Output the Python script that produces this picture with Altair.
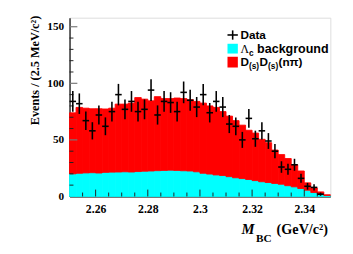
import altair as alt
import pandas as pd
import numpy as np

# ---------------- data ----------------
bin_width = 0.0025
bin_lo = [round(2.25 + i * bin_width, 4) for i in range(40)]

data_counts = [84, 82, 67, 58, 72, 62, 75, 90, 77, 84,
               75, 77, 94, 72, 84, 83, 75, 92, 85, 79,
               90, 74, 84, 79, 64, 62, 50, 69, 51, 58,
               49, 40, 26, 24, 28, 16, 9, 8, 2, 0]

lambda_bkg = [20.0, 20.5, 20.8, 21.0, 20.7, 21.3, 21.5, 21.6, 21.8, 21.6,
              22.0, 22.3, 22.5, 22.8, 23.0, 23.2, 23.0, 22.7, 22.5, 21.8,
              20.5, 19.8, 19.0, 18.5, 17.5, 16.5, 15.8, 15.0, 14.0, 13.0,
              12.3, 11.5, 10.8, 9.5, 8.5, 7.0, 5.5, 3.5, 2.0, 0.8]

stack_total = [73.9, 78.7, 78.0, 77.5, 77.5, 77.3, 78.0, 81.6, 81.6, 82.5,
               87.4, 86.0, 84.5, 88.2, 86.5, 86.5, 87.0, 86.5, 85.5, 84.0,
               82.5, 80.0, 78.7, 75.0, 71.0, 67.0, 63.0, 58.5, 56.0, 50.5,
               47.5, 41.0, 37.0, 33.5, 28.0, 22.5, 12.0, 7.5, 4.0, 1.5]

x_major = [2.26, 2.28, 2.30, 2.32, 2.34]
x_minor = [2.255, 2.265, 2.27, 2.275, 2.285, 2.29, 2.295, 2.305, 2.31,
           2.315, 2.325, 2.33, 2.335, 2.345]
y_major = [50, 100, 150]
y_minor = [10, 20, 30, 40, 60, 70, 80, 90, 110, 120, 130, 140]

# ---------------- frames ----------------
hist = pd.DataFrame({
    "lo": bin_lo,
    "hi": [b + bin_width for b in bin_lo],
    "bkg": lambda_bkg,
    "total": stack_total,
})
hist["zero"] = 0.0

pts = pd.DataFrame({
    "lo": bin_lo,
    "hi": [b + bin_width for b in bin_lo],
    "n": data_counts,
})
pts["mid"] = pts["lo"] + bin_width / 2
pts["err"] = np.sqrt(pts["n"])
pts["elo"] = pts["n"] - pts["err"]
pts["ehi"] = pts["n"] + pts["err"]
pts = pts[pts["n"] > 0]

W, H = 267, 183
SERIF = "Liberation Serif"
SANS = "Liberation Sans"

xs = alt.Scale(domain=[2.25, 2.35], nice=False, zero=False)
ys = alt.Scale(domain=[0, 158], nice=False, zero=True)

x_axis = alt.Axis(values=x_major, format=".2~f", ticks=False, grid=False,
                  labelFont=SERIF, labelFontWeight="bold", labelFontSize=12,
                  labelColor="black", labelPadding=7, domainColor="black",
                  domainWidth=1.2, title=None, labelFlush=False)
y_axis = alt.Axis(values=[0, 50, 100, 150], format="d", ticks=False, grid=False,
                  labelFont=SERIF, labelFontWeight="bold", labelFontSize=11.5,
                  labelColor="black", labelPadding=6, domainColor="black",
                  domainWidth=1.2, title=None)


def X(field):
    return alt.X(field, scale=xs, axis=x_axis, title=None)


def Y(field):
    return alt.Y(field, scale=ys, axis=y_axis, title=None)


bkg_layer = alt.Chart(hist).mark_rect(color="#00FFFF", stroke="#00FFFF", strokeWidth=0.9).encode(
    x=X("lo:Q"), x2="hi:Q", y=Y("zero:Q"), y2="bkg:Q")
sig_layer = alt.Chart(hist).mark_rect(color="#FF0000", stroke="#FF0000", strokeWidth=0.9).encode(
    x=X("lo:Q"), x2="hi:Q", y=Y("bkg:Q"), y2="total:Q")

tick_col = "#222222"
xmaj = alt.Chart(pd.DataFrame({"lo": x_major})).mark_rule(color=tick_col, strokeWidth=1).encode(
    x=X("lo:Q"), y=alt.value(H), y2=alt.value(H - 7))
xmin = alt.Chart(pd.DataFrame({"lo": x_minor})).mark_rule(color=tick_col, strokeWidth=1).encode(
    x=X("lo:Q"), y=alt.value(H), y2=alt.value(H - 4))
ymaj = alt.Chart(pd.DataFrame({"zero": y_major})).mark_rule(color="#777777", strokeWidth=1.2).encode(
    y=Y("zero:Q"), x=alt.value(0), x2=alt.value(8))
ymin = alt.Chart(pd.DataFrame({"zero": y_minor})).mark_rule(color=tick_col, strokeWidth=1).encode(
    y=Y("zero:Q"), x=alt.value(0), x2=alt.value(4))

err_v = alt.Chart(pts).mark_rule(color="black", strokeWidth=1.6).encode(
    x=X("mid:Q"), y=Y("elo:Q"), y2="ehi:Q")
err_h = alt.Chart(pts).mark_rule(color="black", strokeWidth=1.6).encode(
    x=X("lo:Q"), x2="hi:Q", y=Y("n:Q"))


def txt(s, x, y, size, font=SERIF, weight="bold", style="normal", align="left",
        baseline="alphabetic", angle=0):
    kw = dict(text=s, font=font, fontSize=size, fontWeight=weight, fontStyle=style,
              align=align, baseline=baseline, color="black")
    if angle:
        kw["angle"] = angle
    return alt.Chart(pd.DataFrame({"a": [0]})).mark_text(**kw).encode(
        x=alt.value(x), y=alt.value(y))


one = pd.DataFrame({"a": [0]})
leg_h = alt.Chart(one).mark_rule(color="black", strokeWidth=1.6).encode(
    x=alt.value(161.7), x2=alt.value(172.3), y=alt.value(17.7))
leg_v = alt.Chart(one).mark_rule(color="black", strokeWidth=1.6).encode(
    x=alt.value(167), y=alt.value(13), y2=alt.value(22.5))
leg_c = alt.Chart(one).mark_rect(color="#00FFFF").encode(
    x=alt.value(161.7), x2=alt.value(172.3), y=alt.value(26.7), y2=alt.value(36.7))
leg_r = alt.Chart(one).mark_rect(color="#FF0000").encode(
    x=alt.value(161.7), x2=alt.value(172.3), y=alt.value(40), y2=alt.value(51))

LS = 12
SS = 8.5
legend_txt = [
    txt("Data", 175, 22, LS, font=SANS),
    txt("Λ", 175, 36, LS, font=SERIF, weight="normal"),
    txt("c", 183.7, 39, SS, font=SANS),
    txt("background", 192, 36, 12.8, font=SANS),
    txt("D", 175, 49.5, LS, font=SANS),
    txt("(s)", 183.7, 52.5, SS, font=SANS),
    txt("D", 194.5, 49.5, LS, font=SANS),
    txt("(s)", 203.2, 52.5, SS, font=SANS),
    txt("(nπ)", 213.9, 49.5, LS, font=SANS),
]

titles = [
    txt("M", 176, 221.7, 15, style="italic"),
    txt("BC", 191, 230, 11.5),
    txt("(GeV/c²)", 212, 221.7, 14.5),
    txt("Events / (2.5 MeV/c²)", -35, -2, 12.5, align="right", baseline="middle", angle=270),
]

chart = alt.layer(
    bkg_layer, sig_layer, xmaj, xmin, ymaj, ymin, err_v, err_h,
    leg_h, leg_v, leg_c, leg_r, *legend_txt, *titles
).properties(
    width=W, height=H,
    autosize=alt.AutoSizeParams(type="none"),
    padding={"left": 63, "top": 7, "right": 15, "bottom": 56},
).configure_view(stroke="#888888", strokeWidth=1).configure(background="white")

chart.save("out.html", embed_options={"renderer": "svg", "actions": False})
